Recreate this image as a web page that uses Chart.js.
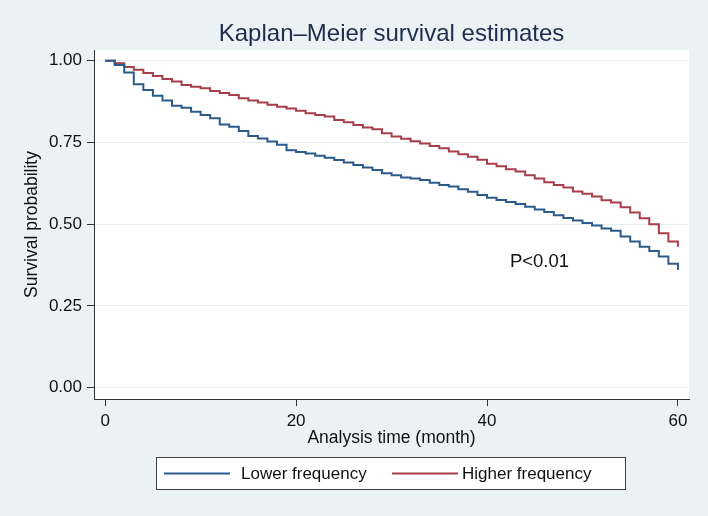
<!DOCTYPE html>
<html>
<head>
<meta charset="utf-8">
<script src="https://cdn.jsdelivr.net/npm/chart.js@4/dist/chart.umd.min.js"></script>
<style>
  html, body { margin: 0; padding: 0; background: #eaf2f3; }
  #wrap { width: 708px; height: 516px; }
</style>
</head>
<body>
<div id="wrap"><canvas id="c" width="708" height="516"></canvas></div>
<script>
// ---- data ----
const chartTitle = "Kaplan–Meier survival estimates";
const xTitle = "Analysis time (month)";
const yTitle = "Survival probability";
const annotationText = "P<0.01";
const months = [0,1,2,3,4,5,6,7,8,9,10,11,12,13,14,15,16,17,18,19,20,21,22,23,24,25,26,27,28,29,30,31,32,33,34,35,36,37,38,39,40,41,42,43,44,45,46,47,48,49,50,51,52,53,54,55,56,57,58,59,60];
const lowerFrequency = [1.000,0.987,0.964,0.928,0.910,0.893,0.878,0.862,0.856,0.844,0.834,0.824,0.805,0.798,0.785,0.770,0.762,0.753,0.743,0.726,0.721,0.716,0.709,0.703,0.696,0.689,0.681,0.673,0.666,0.656,0.650,0.643,0.640,0.635,0.627,0.620,0.615,0.607,0.599,0.589,0.581,0.574,0.568,0.562,0.553,0.545,0.537,0.527,0.519,0.511,0.504,0.496,0.487,0.480,0.462,0.447,0.431,0.418,0.401,0.379,0.360];
const higherFrequency = [1.000,0.992,0.981,0.972,0.962,0.953,0.944,0.936,0.926,0.920,0.916,0.907,0.901,0.895,0.885,0.878,0.872,0.865,0.859,0.854,0.847,0.839,0.834,0.829,0.819,0.812,0.803,0.796,0.790,0.778,0.768,0.761,0.754,0.747,0.739,0.732,0.722,0.714,0.706,0.697,0.685,0.677,0.668,0.661,0.650,0.640,0.628,0.620,0.612,0.600,0.593,0.585,0.573,0.566,0.552,0.536,0.518,0.500,0.472,0.447,0.431];
const seriesNames = ["Lower frequency", "Higher frequency"];
const xTicks = [0, 20, 40, 60];
const yTicks = [0, 0.25, 0.5, 0.75, 1];
const annotationAt = { x: 45.5, y: 0.384 };

// ---- styles ----
const BG = '#eaf2f3';
const BLUE = '#2b5b8b';
const RED = '#a83e48';
const AXIS = '#333333';
const FONT = '"Liberation Sans", Arial, Helvetica, sans-serif';

const decorPlugin = {
  id: 'decor',
  beforeDraw(chart) {
    const { ctx, chartArea: a } = chart;
    ctx.save();
    ctx.fillStyle = BG;
    ctx.fillRect(0, 0, chart.width, chart.height);
    ctx.fillStyle = '#ffffff';
    ctx.fillRect(a.left, a.top, a.right - a.left, a.bottom - a.top);
    ctx.restore();
  },
  afterDraw(chart) {
    const { ctx, chartArea: a } = chart;
    const cx = (a.left + a.right) / 2;
    ctx.save();
    // title
    ctx.fillStyle = '#1e2d4f';
    ctx.font = '24px ' + FONT;
    ctx.textAlign = 'center';
    ctx.textBaseline = 'middle';
    ctx.fillText(chartTitle, cx, 34);
    // annotation via scales
    const xs = chart.scales.x, ys = chart.scales.y;
    ctx.fillStyle = '#111111';
    ctx.font = '18.5px ' + FONT;
    ctx.fillText(annotationText, xs.getPixelForValue(annotationAt.x), ys.getPixelForValue(annotationAt.y));
    // legend box
    const bx = 156, by = 457, bw = 470, bh = 33;
    ctx.fillStyle = '#ffffff';
    ctx.fillRect(bx, by, bw, bh);
    ctx.strokeStyle = '#404040';
    ctx.lineWidth = 1;
    ctx.strokeRect(bx + 0.5, by + 0.5, bw - 1, bh - 1);
    const ly = by + bh / 2;
    const items = [
      { x0: 164, x1: 230, tx: 241 },
      { x0: 392, x1: 458, tx: 462 }
    ];
    chart.data.datasets.forEach((ds, i) => {
      const it = items[i];
      ctx.strokeStyle = ds.borderColor;
      ctx.lineWidth = 2;
      ctx.beginPath();
      ctx.moveTo(it.x0, ly);
      ctx.lineTo(it.x1, ly);
      ctx.stroke();
      ctx.fillStyle = '#111111';
      ctx.font = '17px ' + FONT;
      ctx.textAlign = 'left';
      ctx.textBaseline = 'middle';
      ctx.fillText(ds.label, it.tx, ly + 1);
    });
    ctx.restore();
  }
};

const mk = (vals) => months.map((m, i) => ({ x: m, y: vals[i] }));

new Chart(document.getElementById('c'), {
  type: 'line',
  data: {
    datasets: [
      { label: seriesNames[0], data: mk(lowerFrequency), borderColor: BLUE, backgroundColor: BLUE, borderWidth: 2, pointRadius: 0, stepped: true, fill: false },
      { label: seriesNames[1], data: mk(higherFrequency), borderColor: RED, backgroundColor: RED, borderWidth: 2, pointRadius: 0, stepped: true, fill: false }
    ]
  },
  options: {
    responsive: false,
    devicePixelRatio: 1,
    animation: false,
    layout: { padding: { left: 0, right: 19, top: 50, bottom: 0 } },
    plugins: {
      legend: { display: false },
      title: { display: false },
      tooltip: { enabled: false }
    },
    scales: {
      x: {
        type: 'linear',
        min: -1.17,
        max: 61.16,
        afterBuildTicks: (s) => { s.ticks = xTicks.map(v => ({ value: v })); },
        afterFit: (s) => { s.height = 117; },
        ticks: { color: '#111111', font: { family: FONT, size: 17 }, padding: 5, maxRotation: 0, autoSkip: false },
        grid: { drawOnChartArea: false, tickLength: 7, tickColor: AXIS, tickWidth: 1 },
        border: { display: true, color: AXIS, width: 1 },
        title: { display: true, text: xTitle, color: '#111111', font: { family: FONT, size: 17.5 }, padding: { top: 0, bottom: 67 } }
      },
      y: {
        type: 'linear',
        min: -0.0346,
        max: 1.0327,
        afterBuildTicks: (s) => { s.ticks = yTicks.map(v => ({ value: v })); },
        afterFit: (s) => { s.width = 94; },
        ticks: { color: '#111111', font: { family: FONT, size: 17 }, padding: 5, callback: (v) => Number(v).toFixed(2) },
        grid: { color: '#e3eef0', lineWidth: 1, tickLength: 7, tickColor: AXIS, tickWidth: 1 },
        border: { display: true, color: AXIS, width: 1 },
        title: { display: true, text: yTitle, color: '#111111', font: { family: FONT, size: 17.5 }, padding: { top: 22, bottom: 0 } }
      }
    }
  },
  plugins: [decorPlugin]
});
</script>
</body>
</html>
